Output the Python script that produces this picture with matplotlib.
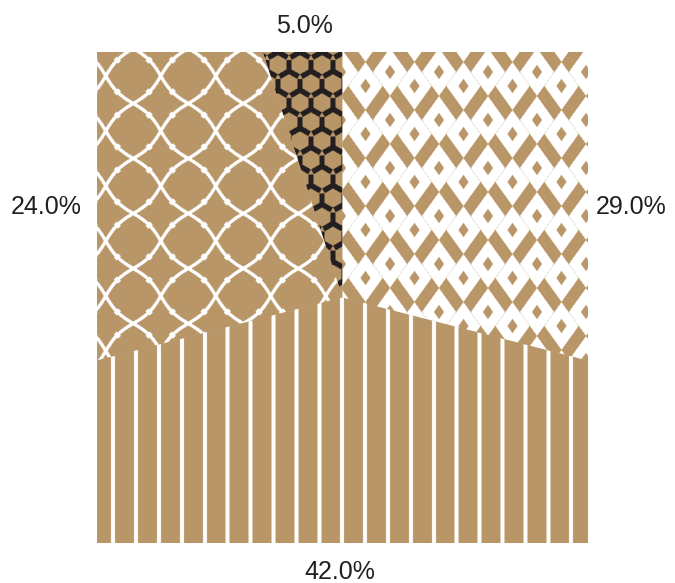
import numpy as np
import matplotlib
matplotlib.use("Agg")
import matplotlib.pyplot as plt

# slice shares, counter-clockwise from 12 o'clock
shares = [5.0, 24.0, 42.0, 29.0]
labels = ["5.0%", "24.0%", "42.0%", "29.0%"]

TAN = np.array([184, 150, 104]) / 255
WHITE = np.array([1.0, 1.0, 1.0])
INK = np.array([35, 31, 32]) / 255

fig = plt.figure(figsize=(6.75, 5.83), dpi=100)
ax = fig.add_axes([97 / 675, 40 / 583, 491 / 675, 491 / 583])

# pixel grid of the plot square (2x supersampled), figure pixel coords
ss = 2
n = 491 * ss
px = 97 + (np.arange(n) + 0.5) / ss
py = 52 + (np.arange(n) + 0.5) / ss
X, Y = np.meshgrid(px, py)


def paint(mask, fg, bg=TAN):
    img = np.empty(mask.shape + (3,))
    img[:] = bg
    img[mask] = fg
    return img


def stripes():
    d = np.abs(((X - 388 + 11.45) % 22.9) - 11.45)
    return paint(d < 2.0, WHITE)


def trellis():
    # two families of wavy diagonals, crossing in X shapes
    P = 55.0
    u = ((X - 133.3) + (Y - 103.5)) / P
    v = ((X - 133.3) - (Y - 103.5)) / P
    k = P / np.sqrt(2)
    A = 0.08
    nu, nv = np.round(u), np.round(v)
    f1 = u - nu - A * (-1.0) ** nu * np.sin(np.pi * v)
    f2 = v - nv - A * (-1.0) ** nv * np.sin(np.pi * u)
    line = np.minimum(np.abs(f1), np.abs(f2)) * k < 1.7
    # small knots half way along each edge
    hu = np.abs(u - np.floor(u) - 0.5) * k
    hv = np.abs(v - np.floor(v) - 0.5) * k
    knot = ((np.abs(f1) * k < 3.0) & (hv < 2.0)) | ((np.abs(f2) * k < 3.0) & (hu < 2.0))
    return paint(line | knot, WHITE)


def blocks():
    # broken honeycomb of black Y strokes
    s = 22.0
    h = s * np.sqrt(3) / 2
    x0, y0 = 300.0, 52.0
    arms = [(0.0, -1.0), (-0.866, 0.5), (0.866, 0.5)]
    L, w = 0.5 * s, 2.7
    jr = np.round((Y - y0) / h)
    black = np.zeros(X.shape, bool)
    for dj in (-1, 0, 1):
        j = jr + dj
        cy = y0 + j * h
        shift = (j % 2) * s / 2
        ir = np.round((X - x0 - shift) / s)
        for di in (-1, 0, 1):
            cx = x0 + shift + (ir + di) * s
            dx, dy = X - cx, Y - cy
            black |= np.hypot(dx, dy) < w
            for ux, uy in arms:
                t = dx * ux + dy * uy
                perp = np.abs(dx * uy - dy * ux)
                black |= (t >= 0) & (t <= L) & (perp < w)
    return paint(black, INK)


def ikat():
    # bold diamond rings with small holes, touching their neighbours
    a, b = 19.0, 26.5
    white = np.zeros(X.shape, bool)
    for cx0, cy0 in ((390.0, 72.0), (365.5, 86.0)):
        dx = (X - cx0 + 24.5) % 49 - 24.5
        dy = (Y - cy0 + 24) % 48 - 24
        d = np.abs(dx) / a + np.abs(dy) / b
        white |= (d > 0.27) & (d < 0.9)
    return paint(white, WHITE)


wedges, _ = ax.pie(shares, startangle=90, counterclock=True, radius=1.6,
                   colors=[TAN] * 4, wedgeprops=dict(linewidth=0))

for w, tex in zip(wedges, [blocks, trellis, stripes, ikat]):
    w.set_clip_on(True)
    im = ax.imshow(tex(), extent=(-1, 1, -1, 1), origin="upper", zorder=2,
                   interpolation="antialiased")
    im.set_clip_path(w)

ax.set_xlim(-1, 1)
ax.set_ylim(-1, 1)
ax.axis("off")

label_pos = [(-0.153, 1.106), (-1.208, 0.369), (-0.012, -1.118), (1.175, 0.369)]
for lab, (lx, ly) in zip(labels, label_pos):
    ax.text(lx, ly, lab, ha="center", va="center", fontsize=18,
            color="#231f20", family="Liberation Sans", clip_on=False)

fig.savefig("out.png", dpi=100)
